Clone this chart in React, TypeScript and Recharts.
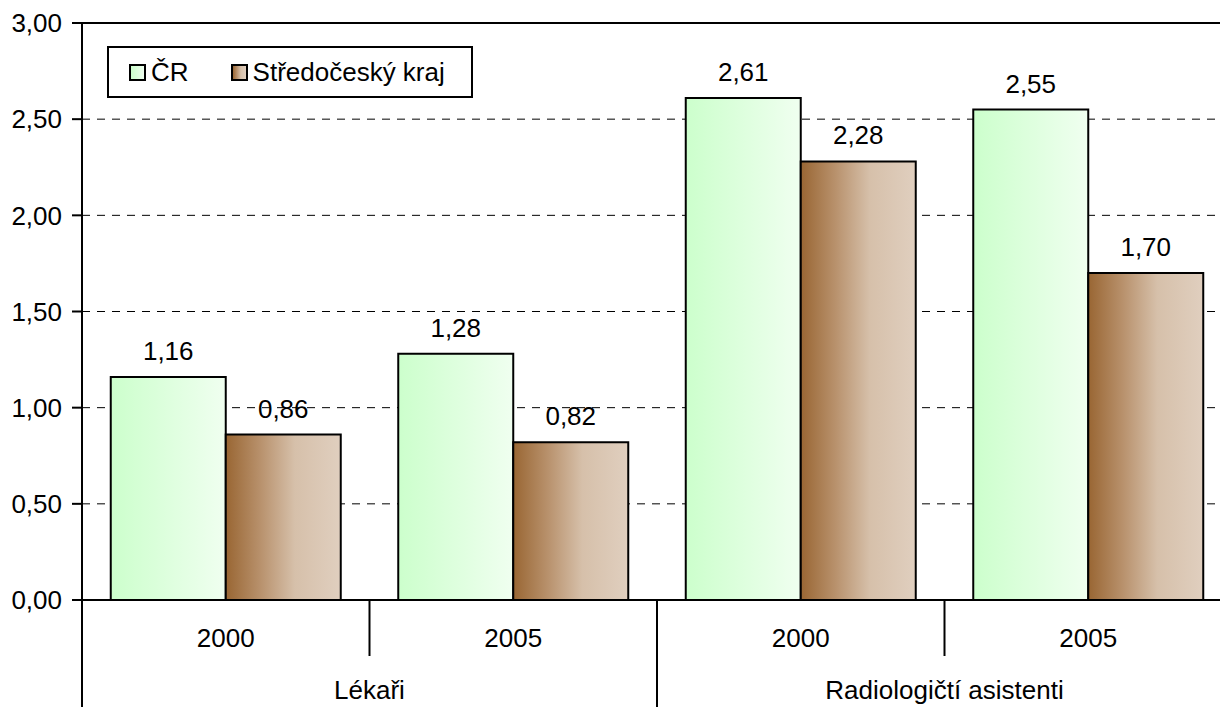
import {
  Bar,
  BarChart,
  CartesianGrid,
  LabelList,
  Legend,
  ReferenceLine,
  XAxis,
  YAxis,
} from "recharts";

const years = ["2000", "2005", "2000", "2005"];
const groups = ["Lékaři", "Lékaři", "Radiologičtí asistenti", "Radiologičtí asistenti"];
const crValues = [1.16, 1.28, 2.61, 2.55];
const stcValues = [0.86, 0.82, 2.28, 1.7];
const yTicks = [0, 0.5, 1, 1.5, 2, 2.5, 3];
const seriesNames = ["ČR", "Středočeský kraj"];

const data = years.map((year, i) => ({
  year,
  group: groups[i],
  cr: crValues[i],
  stc: stcValues[i],
}));

const FONT = "Arial, 'Liberation Sans', sans-serif";
const fmt = (v: number) => Number(v).toFixed(2).replace(".", ",");

const greenCss = "linear-gradient(to right, #ccffcc, #f0fff0)";
const brownCss = "linear-gradient(to right, #996633, #b8916c 30%, #d6c0aa 60%, #e0cfbf)";

// inner axis: years, plus separators (long one where the group changes)
function YearTick(props: any) {
  const { x, y, index, payload, width, visibleTicksCount } = props;
  const half = payload?.offset ?? width / visibleTicksCount / 2;
  const newGroup = index === 0 || groups[index] !== groups[index - 1];
  return (
    <g>
      <line x1={x - half} x2={x - half} y1={y} y2={newGroup ? y + 107 : y + 56} stroke="#000" strokeWidth={2} />
      <text x={x} y={y + 47} textAnchor="middle" fontSize={26} fill="#000">
        {payload.value}
      </text>
    </g>
  );
}

function GroupTick(props: any) {
  const { x, y, payload } = props;
  return (
    <text x={x} y={y + 43} textAnchor="middle" fontSize={26} fill="#000">
      {payload.value}
    </text>
  );
}

function LegendBox() {
  const swatches = [greenCss, brownCss];
  return (
    <div
      style={{
        width: 366,
        height: 52,
        boxSizing: "border-box",
        border: "2px solid #000",
        background: "#fff",
        display: "flex",
        alignItems: "center",
        paddingLeft: 20,
        fontSize: 26,
        fontFamily: FONT,
        color: "#000",
      }}
    >
      {seriesNames.map((name, i) => (
        <div key={name} style={{ display: "flex", alignItems: "center", marginRight: i === 0 ? 42 : 0 }}>
          <span
            style={{
              display: "inline-block",
              width: 17,
              height: 17,
              boxSizing: "border-box",
              border: "2px solid #000",
              background: swatches[i],
              marginRight: 5,
            }}
          />
          <span>{name}</span>
        </div>
      ))}
    </div>
  );
}

export default function App() {
  return (
    <div
      style={{
        position: "absolute",
        left: 0,
        top: 0,
        width: 1220,
        height: 707,
        overflow: "hidden",
        background: "#fff",
        fontFamily: FONT,
      }}
    >
      <BarChart
        width={1232}
        height={707}
        data={data}
        margin={{ top: 23, right: 0, left: 0, bottom: 0 }}
        barCategoryGap="10%"
        barGap={0}
      >
        <defs>
          <linearGradient id="gGreen" x1="0" y1="0" x2="1" y2="0">
            <stop offset="0%" stopColor="#ccffcc" />
            <stop offset="100%" stopColor="#f0fff0" />
          </linearGradient>
          <linearGradient id="gBrown" x1="0" y1="0" x2="1" y2="0">
            <stop offset="0%" stopColor="#996633" />
            <stop offset="30%" stopColor="#b8916c" />
            <stop offset="60%" stopColor="#d6c0aa" />
            <stop offset="100%" stopColor="#e0cfbf" />
          </linearGradient>
        </defs>
        <CartesianGrid xAxisId={0} vertical={false} stroke="#000" strokeDasharray="8 7" />
        <XAxis
          xAxisId={0}
          dataKey="year"
          height={56}
          tickSize={0}
          tickMargin={0}
          tickLine={false}
          axisLine={{ stroke: "#000", strokeWidth: 2 }}
          tick={<YearTick />}
          interval={0}
        />
        <XAxis
          xAxisId={1}
          dataKey="group"
          allowDuplicatedCategory={false}
          height={51}
          tickSize={0}
          tickMargin={0}
          tickLine={false}
          axisLine={false}
          tick={<GroupTick />}
          interval={0}
        />
        <YAxis
          width={82}
          domain={[0, 3]}
          ticks={yTicks}
          tickFormatter={fmt}
          tickSize={10}
          tickMargin={10}
          axisLine={{ stroke: "#000", strokeWidth: 2 }}
          tickLine={{ stroke: "#000", strokeWidth: 2 }}
          tick={{ fill: "#000", fontSize: 26 }}
        />
        <ReferenceLine xAxisId={0} y={3} stroke="#000" strokeWidth={2} />
        <Legend
          layout="vertical"
          align="center"
          verticalAlign="middle"
          content={() => <LegendBox />}
          wrapperStyle={{ top: 46, left: 107, width: 366, height: 52 }}
        />
        <Bar xAxisId={0} dataKey="cr" name={seriesNames[0]} fill="url(#gGreen)" stroke="#000" strokeWidth={2} isAnimationActive={false}>
          <LabelList dataKey="cr" position="top" offset={17} formatter={(v: any) => fmt(v)} fill="#000" fontSize={26} />
        </Bar>
        <Bar xAxisId={0} dataKey="stc" name={seriesNames[1]} fill="url(#gBrown)" stroke="#000" strokeWidth={2} isAnimationActive={false}>
          <LabelList dataKey="stc" position="top" offset={17} formatter={(v: any) => fmt(v)} fill="#000" fontSize={26} />
        </Bar>
      </BarChart>
    </div>
  );
}
